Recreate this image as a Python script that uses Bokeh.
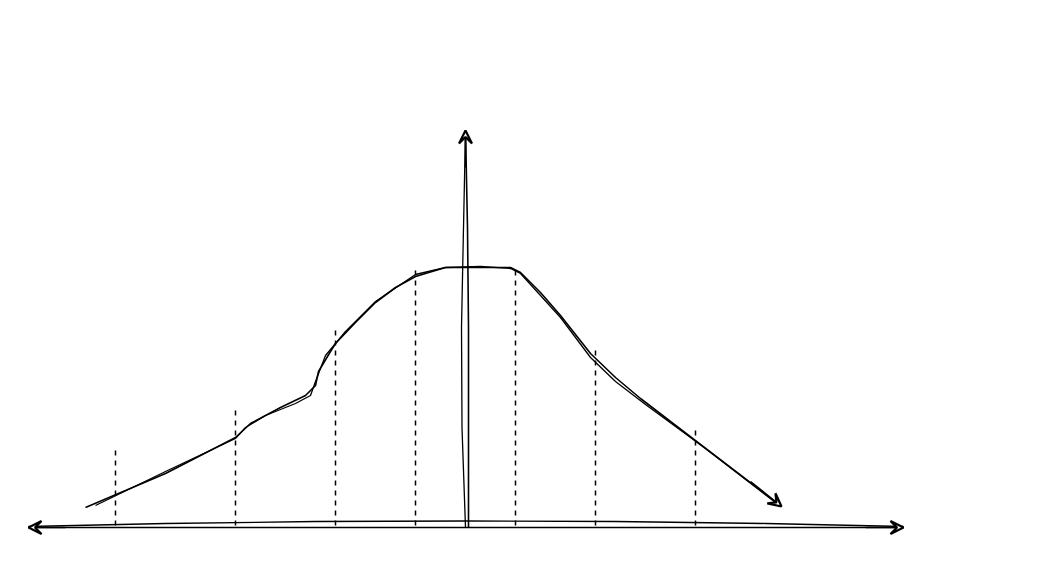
from bokeh.plotting import figure
from bokeh.models import Range1d, Arrow, VeeHead
from bokeh.embed import file_html
from bokeh.resources import INLINE

# Dashed reference lines (x positions and their heights)
dash_x = [-35, -23, -13, -5, 5, 13, 23]
dash_top = [8, 12, 20, 26, 26, 18, 10]
dash_bottom = [0.2, 0.2, 0.2, 0.2, 0.2, 0.2, 0.2]

# Bell-like curve, first stroke
curve_x = [-38, -30, -23, -21.5, -18.5, -16, -15, -14.7, -13.5, -13, -11, -9, -7, -5, -2, 1.5, 4.5, 5.5, 7.5, 9.5, 12.5, 15, 17.5, 23.5, 31.5]
curve_y = [2.0, 5.4, 9.0, 10.4, 12.0, 13.2, 14.2, 15.6, 17.6, 18.4, 20.5, 22.5, 24.0, 25.1, 26.0, 26.0, 26.0, 25.5, 23.5, 21.2, 17.4, 15.0, 12.9, 8.3, 2.2]
# second, slightly offset stroke (hand-drawn look)
curve2_x = [-37, -30, -23, -22, -20, -17, -15.5, -15, -14, -12, -9, -5, -2, 1.5, 4.5, 5.5, 9.5, 12.5, 15, 18, 24, 31]
curve2_y = [2.2, 5.6, 8.9, 10.0, 11.2, 12.4, 13.2, 14.6, 17.2, 19.6, 22.6, 25.3, 26.0, 26.1, 25.9, 25.4, 21.0, 17.0, 14.6, 12.3, 7.9, 2.5]

# Axes (two strokes each)
hax_x = [-43.7, -30, -15, 0, 15, 30, 43.8]
hax_y1 = [0, 0, 0, 0, 0, 0, 0]
hax_y2 = [0.1, 0.4, 0.6, 0.65, 0.6, 0.4, 0.1]
vax_y = [0, 10, 20, 30, 39.7]
vax_x1 = [0.3, 0.3, 0.3, 0.2, 0.0]
vax_x2 = [0.0, -0.35, -0.4, -0.2, 0.0]

W, H = 1038, 564
p = figure(width=W, height=H, output_backend="svg", toolbar_location=None,
           x_range=Range1d(-46.5, 57.3), y_range=Range1d(-3.7, 52.7),
           min_border=0, outline_line_color=None)
p.axis.visible = False
p.grid.visible = False
p.background_fill_color = "white"

p.segment(x0=dash_x, y0=dash_bottom, x1=dash_x, y1=dash_top,
          line_color="black", line_width=1.5, line_dash="5 5")

p.line(hax_x, hax_y1, line_color="black", line_width=1.6)
p.line(hax_x, hax_y2, line_color="black", line_width=1.3)
p.line(vax_x1, vax_y, line_color="black", line_width=1.6)
p.line(vax_x2, vax_y, line_color="black", line_width=1.3)

p.line(curve_x, curve_y, line_color="black", line_width=1.6, line_join="round")
p.line(curve2_x, curve2_y, line_color="black", line_width=1.3, line_join="round")

def head(x0, y0, x1, y1):
    p.add_layout(Arrow(end=VeeHead(size=13, fill_color="white", fill_alpha=1.0,
                                   line_color="black", line_width=2.2),
                       x_start=x0, y_start=y0, x_end=x1, y_end=y1,
                       line_color="black", line_width=1.6))

head(-40, 0, -43.7, 0)
head(40, 0, 43.8, 0)
head(0, 36, 0, 39.7)
head(28.5, 4.6, 31.6, 2.1)

open("out.html", "w").write(file_html(p, INLINE))
